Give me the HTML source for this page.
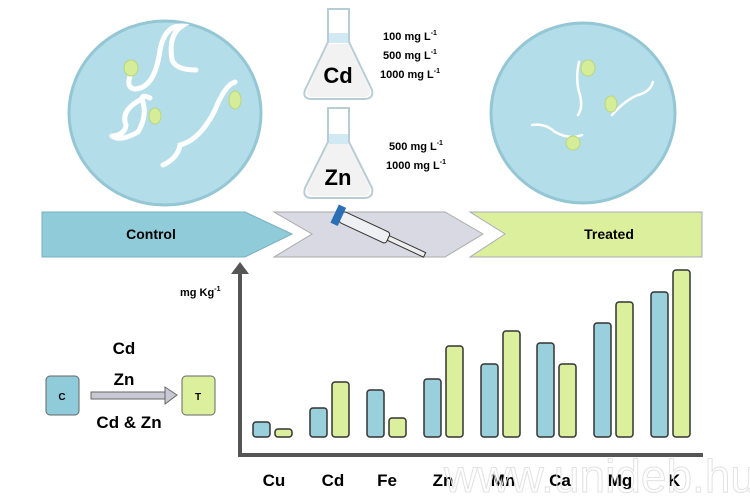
<!DOCTYPE html>
<html><head><style>
body{margin:0;background:#fff;}
svg{display:block;font-family:"Liberation Sans",sans-serif;font-weight:bold;}
</style></head><body>
<svg width="750" height="499" viewBox="0 0 750 499">
<!-- dishes -->
<ellipse cx="165" cy="113" rx="96" ry="92" fill="#b3dde8" stroke="#94c6d4" stroke-width="3"/>
<ellipse cx="583" cy="113" rx="92" ry="90" fill="#b3dde8" stroke="#94c6d4" stroke-width="3"/>
<g fill="none" stroke="#fff" stroke-width="5" stroke-linecap="round">
<path d="M130 76 Q126 88 135 89 Q155 88 160 50 Q165 25 182 26 Q168 35 172 60 Q176 70 196 70"/>
<path d="M112 136 Q125 135 126 125 Q120 110 142 99 Q142 94 150 98 M142 99 Q148 115 138 132 Q120 142 112 136"/>
<path d="M163 165 Q178 158 180 145 Q200 140 215 110 Q225 85 235 82"/>
</g>
<g fill="none" stroke="#fff" stroke-width="2.5" stroke-linecap="round">
<path d="M579 62 Q575 80 580 95 Q583 108 578 115"/>
<path d="M612 115 Q625 100 638 95 Q650 92 653 82"/>
<path d="M532 125 Q545 123 555 132 Q570 140 582 135"/>
</g>
<g fill="#d5ec98" stroke="#b9d67c">
<ellipse cx="131" cy="68" rx="7" ry="8"/><ellipse cx="155" cy="116" rx="6" ry="8"/><ellipse cx="235" cy="100" rx="6" ry="9"/>
<ellipse cx="588" cy="68" rx="7" ry="8"/><ellipse cx="611" cy="104" rx="6" ry="8"/><ellipse cx="573" cy="143" rx="7" ry="7"/>
</g>
<!-- flasks -->
<g stroke="#b8ccd6" stroke-width="2">
<path d="M328 9 L349 9 L349 42 L372 90 Q374 99 364 99 L312 99 Q302 99 305 90 L328 42 Z" fill="#fff"/>
<path d="M328 44 L349 44 L370 90 Q371 97 363 97 L313 97 Q306 97 307 90 Z" fill="#f2f2f2" stroke="none"/>
<rect x="329" y="33" width="19" height="10" fill="#d0e9f2" stroke="none"/>
<path d="M328 108 L349 108 L349 142 L372 188 Q374 198 364 198 L312 198 Q302 198 305 188 L328 142 Z" fill="#fff"/>
<path d="M328 144 L349 144 L370 188 Q371 196 363 196 L313 196 Q306 196 307 188 Z" fill="#f2f2f2" stroke="none"/>
<rect x="329" y="134" width="19" height="10" fill="#d0e9f2" stroke="none"/>
</g>
<text x="338" y="83" font-size="22" text-anchor="middle">Cd</text>
<text x="338" y="185" font-size="22" text-anchor="middle">Zn</text>
<g font-size="11" text-anchor="middle">
<text x="410" y="40">100 mg L<tspan dy="-5" font-size="7">-1</tspan></text>
<text x="410" y="59">500 mg L<tspan dy="-5" font-size="7">-1</tspan></text>
<text x="410" y="78">1000 mg L<tspan dy="-5" font-size="7">-1</tspan></text>
<text x="416" y="150">500 mg L<tspan dy="-5" font-size="7">-1</tspan></text>
<text x="416" y="169">1000 mg L<tspan dy="-5" font-size="7">-1</tspan></text>
</g>
<!-- banners -->
<polygon points="42,212 245,212 292,234 245,257 42,257" fill="#8fcbd9" stroke="#7ab0bf"/>
<polygon points="274,212 445,212 483,234 445,257 274,257 312,234" fill="#d9d9e3" stroke="#aaa"/>
<polygon points="470,212 702,212 702,257 470,257 505,234" fill="#dcef9c" stroke="#aab"/>
<text x="151" y="239" font-size="14" text-anchor="middle">Control</text>
<text x="609" y="239" font-size="14" text-anchor="middle">Treated</text>
<g transform="rotate(25 370 230)">
<rect x="338" y="224" width="52" height="12" rx="3" fill="#eef0f4" stroke="#333"/>
<rect x="390" y="227" width="40" height="5" fill="#eee" stroke="#333"/>
<rect x="331" y="220" width="8" height="20" fill="#2a6fb5"/>
</g>
<!-- axes -->
<line x1="240" y1="272" x2="240" y2="455" stroke="#555" stroke-width="4"/>
<polygon points="231,274 249,274 240,262" fill="#555"/>
<line x1="238" y1="455" x2="703" y2="455" stroke="#555" stroke-width="4"/>
<text x="180" y="296" font-size="11">mg Kg<tspan dy="-5" font-size="7">-1</tspan></text>
<!-- bars -->
<g stroke="#333" stroke-width="1.5">
<g fill="#9acfdc">
<rect x="253" y="422" width="17" height="15" rx="3"/>
<rect x="310" y="408" width="17" height="29" rx="3"/>
<rect x="367" y="390" width="17" height="47" rx="3"/>
<rect x="424" y="379" width="17" height="58" rx="3"/>
<rect x="481" y="364" width="17" height="73" rx="3"/>
<rect x="537" y="343" width="17" height="94" rx="3"/>
<rect x="594" y="323" width="17" height="114" rx="3"/>
<rect x="651" y="292" width="17" height="145" rx="3"/>
</g>
<g fill="#dcef9c">
<rect x="275" y="429" width="17" height="8" rx="3"/>
<rect x="332" y="382" width="17" height="55" rx="3"/>
<rect x="389" y="418" width="17" height="19" rx="3"/>
<rect x="446" y="346" width="17" height="91" rx="3"/>
<rect x="503" y="331" width="17" height="106" rx="3"/>
<rect x="559" y="364" width="17" height="73" rx="3"/>
<rect x="616" y="302" width="17" height="135" rx="3"/>
<rect x="673" y="270" width="17" height="167" rx="3"/>
</g>
</g>
<g font-size="17" text-anchor="middle">
<text x="274" y="486">Cu</text><text x="333" y="486">Cd</text><text x="387" y="486">Fe</text><text x="443" y="486">Zn</text>
<text x="503" y="486">Mn</text><text x="560" y="486">Ca</text><text x="620" y="486">Mg</text><text x="674" y="486">K</text>
</g>
<text x="600" y="492" font-size="46" font-weight="normal" fill="none" stroke="#e2e2e2" stroke-width="1" text-anchor="middle">www.unideb.hu</text>
<!-- left schematic -->
<rect x="46" y="376" width="33" height="39" rx="4" fill="#8fcbd9" stroke="#666"/>
<rect x="182" y="376" width="33" height="39" rx="4" fill="#dcef9c" stroke="#666"/>
<text x="62" y="400" font-size="10" text-anchor="middle">C</text>
<text x="198" y="400" font-size="10" text-anchor="middle">T</text>
<rect x="91" y="392" width="76" height="7" fill="#c8c8d4" stroke="#666"/>
<polygon points="165,387 165,404 177,395" fill="#c8c8d4" stroke="#666"/>
<g font-size="17" text-anchor="middle">
<text x="124" y="354">Cd</text><text x="124" y="385">Zn</text><text x="129" y="428">Cd &amp; Zn</text>
</g>
</svg>
</body></html>
